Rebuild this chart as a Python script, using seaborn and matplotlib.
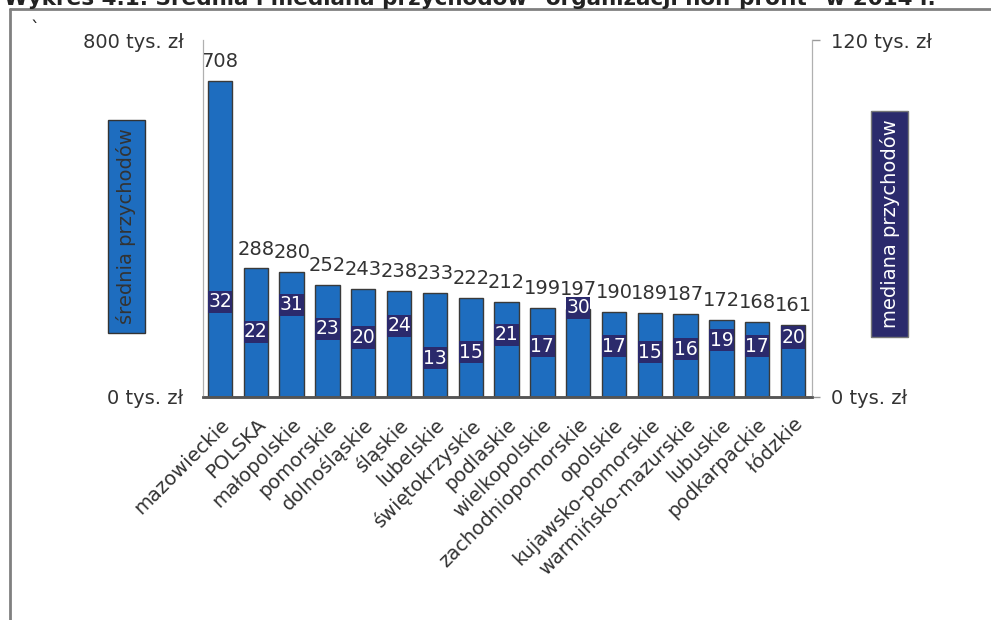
import numpy as np
import pandas as pd
import matplotlib
matplotlib.use("Agg")
import matplotlib.pyplot as plt
from matplotlib.lines import Line2D
import seaborn as sns

sns.set_style("white")
plt.rcParams['font.family'] = ['DejaVu Sans']

regions = ["mazowieckie", "POLSKA", "małopolskie", "pomorskie", "dolnośląskie",
           "śląskie", "lubelskie", "świętokrzyskie", "podlaskie", "wielkopolskie",
           "zachodniopomorskie", "opolskie", "kujawsko-pomorskie",
           "warmińsko-mazurskie", "lubuskie", "podkarpackie", "łódzkie"]
mean_income = [708, 288, 280, 252, 243, 238, 233, 222, 212, 199, 197, 190, 189, 187, 172, 168, 161]
median_income = [32, 22, 31, 23, 20, 24, 13, 15, 21, 17, 30, 17, 15, 16, 19, 17, 20]
left_ticks = [0, 800]
right_ticks = [0, 120]
left_ticklabels = ["0 tys. zł", "800 tys. zł"]
right_ticklabels = ["0 tys. zł", "120 tys. zł"]

BLUE = "#1e6dbf"
NAVY = "#2b2a6c"
TXT = "#333333"

df = pd.DataFrame({"region": regions, "mean": mean_income, "median": median_income})

fig = plt.figure(figsize=(9.91, 6.20), dpi=100)
ax = fig.add_axes([203/991, 1 - 397/620, (812 - 203)/991, (397 - 40)/620])

sns.barplot(data=df, x="region", y="mean", color=BLUE, saturation=1, width=0.68,
            edgecolor="#3a3a3a", linewidth=1, ax=ax)
ax.set_ylim(0, 800)
ax.set_xlim(-0.475, len(regions) - 0.47)
ax.set_xlabel("")
ax.set_ylabel("")
ax.set_yticks(left_ticks)
ax.set_yticklabels(left_ticklabels)
ax.tick_params(axis="y", length=0, pad=14, labelsize=14, labelcolor=TXT)
ax.tick_params(axis="x", length=0, pad=13, labelsize=14, labelcolor=TXT)
plt.setp(ax.get_xticklabels(), rotation=45, ha="right", rotation_mode="anchor")

for i, v in enumerate(mean_income):
    ax.annotate(str(v), (i, v), xytext=(0, 14), textcoords="offset points",
                ha="center", va="center", fontsize=14, color=TXT)

# median on the right axis, drawn as small navy boxes
ax2 = ax.twinx()
ax2.set_ylim(0, 120)
box_h = 7.4
ax2.bar(np.arange(len(regions)), box_h, bottom=np.array(median_income) - box_h / 2,
        width=0.68, color=NAVY, linewidth=0)
for i, m in enumerate(median_income):
    ax2.text(i, m, str(m), ha="center", va="center", fontsize=13.5, color="white")
ax2.set_yticks(right_ticks)
ax2.set_yticklabels(right_ticklabels)
ax2.tick_params(axis="y", length=6, width=1, color="#999999", pad=8,
                labelsize=14, labelcolor=TXT)

for a in (ax, ax2):
    a.spines["top"].set_visible(False)
    a.spines["left"].set_color("#b0b0b0")
    a.spines["right"].set_color("#b0b0b0")
    a.spines["bottom"].set_color("#555555")
    a.spines["bottom"].set_linewidth(1.8)

fig.text(126.5/991, 1 - 226.5/620, "średnia przychodów", rotation=90, ha="center",
         va="center", fontsize=14, color=TXT,
         bbox=dict(boxstyle="square,pad=0.45", fc=BLUE, ec="#333333", lw=1))
fig.text(889.5/991, 1 - 224/620, "mediana przychodów", rotation=90, ha="center",
         va="center", fontsize=14, color="white",
         bbox=dict(boxstyle="square,pad=0.45", fc=NAVY, ec="#777777", lw=1))

# frame and clipped title of the source page
fig.add_artist(Line2D([10/991, 1], [1 - 9/620, 1 - 9/620], color="#808080", lw=2,
                      transform=fig.transFigure))
fig.add_artist(Line2D([10/991, 10/991], [0, 1 - 9/620], color="#808080", lw=2,
                      transform=fig.transFigure))
fig.text(4/991, 1 - 5/620, "Wykres 4.1. Średnia i mediana przychodów \"organizacji non-profit\" w 2014 r.",
         ha="left", va="baseline", fontsize=15.5, fontweight="bold", color="#222222")
fig.text(30/991, 1 - 34/620, "`", fontsize=13, color="#222222")

fig.savefig("out.png", dpi=100)
